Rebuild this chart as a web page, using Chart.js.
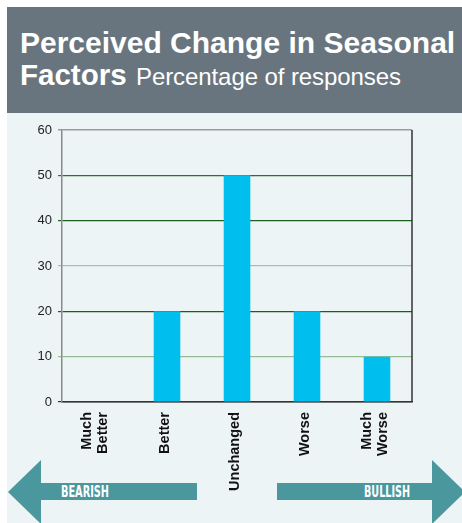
<!DOCTYPE html>
<html>
<head>
<meta charset="utf-8">
<script src="https://cdn.jsdelivr.net/npm/chart.js@4/dist/chart.umd.min.js"></script>
<style>
  html, body { margin: 0; padding: 0; background: #ffffff; }
  #wrap { position: relative; width: 462px; height: 523px; overflow: hidden; }
  #deco, #chart { position: absolute; left: 0; top: 0; }
</style>
</head>
<body>
<div id="wrap">
  <svg id="deco" width="462" height="523" xmlns="http://www.w3.org/2000/svg">
    <rect x="7" y="7" width="455" height="106" fill="#68757e"/>
    <rect x="7" y="113" width="455" height="410" fill="#ecf4f6"/>
    <text x="20" y="53" fill="#ffffff" font-family="'Liberation Sans', Arial, sans-serif" font-weight="bold" font-size="30">Perceived Change in Seasonal</text>
    <text x="20" y="85" fill="#ffffff" font-family="'Liberation Sans', Arial, sans-serif" font-size="24"><tspan font-weight="bold" font-size="29.5">Factors</tspan><tspan x="136" textLength="265" lengthAdjust="spacing">Percentage of responses</tspan></text>
    <polygon points="8,492 41,460 41,483 197,483 197,500 41,500 41,524" fill="#4a979d"/>
    <polygon points="465,492 432,460 432,483 277,483 277,500 432,500 432,524" fill="#4a979d"/>
    <text x="61" y="496.5" fill="#ffffff" font-family="'Liberation Sans Narrow', 'DejaVu Sans Condensed', 'Liberation Sans', sans-serif" font-weight="bold" font-size="15" textLength="48" lengthAdjust="spacingAndGlyphs">BEARISH</text>
    <text x="364" y="496.5" fill="#ffffff" font-family="'Liberation Sans Narrow', 'DejaVu Sans Condensed', 'Liberation Sans', sans-serif" font-weight="bold" font-size="15" textLength="46" lengthAdjust="spacingAndGlyphs">BULLISH</text>
  </svg>
  <canvas id="chart" width="462" height="523"></canvas>
</div>
<script>
// Survey answers: perceived change in seasonal factors, % of responses
const categories = [["Much", "Better"], ["Better"], ["Unchanged"], ["Worse"], ["Much", "Worse"]];
const responses = [0, 20, 50, 20, 10];
const yTicks = [0, 10, 20, 30, 40, 50, 60];

// Horizontal rule colours by tick value
const ruleColours = { 0: '#333333', 10: '#96bc96', 20: '#1d5d1d', 30: '#a3c4a3', 40: '#1f5f1f', 50: '#2f6f2f', 60: '#9a9d9f' };

// Right-hand frame line of the plot area
const frameRight = {
  id: 'frameRight',
  afterDatasetsDraw(chart) {
    const { ctx, chartArea } = chart;
    ctx.save();
    ctx.strokeStyle = '#333333';
    ctx.lineWidth = 1.5;
    ctx.beginPath();
    ctx.moveTo(chartArea.right, chartArea.top);
    ctx.lineTo(chartArea.right, chartArea.bottom);
    ctx.stroke();
    ctx.restore();
  }
};

// Vertical category labels, each block centred on its tick
const verticalLabels = {
  id: 'verticalLabels',
  afterDraw(chart) {
    const { ctx } = chart;
    const xs = chart.scales.x;
    const lineH = 16;
    ctx.save();
    ctx.fillStyle = '#111111';
    ctx.font = 'bold 14.5px "Liberation Sans", Arial, sans-serif';
    ctx.textAlign = 'right';
    ctx.textBaseline = 'middle';
    xs.ticks.forEach((t, i) => {
      const lines = categories[i];
      const x = xs.getPixelForTick(i) - 2;
      ctx.save();
      ctx.translate(x, xs.top + 10);
      ctx.rotate(-Math.PI / 2);
      lines.forEach((line, j) => {
        ctx.fillText(line, 0, (j - (lines.length - 1) / 2) * lineH);
      });
      ctx.restore();
    });
    ctx.restore();
  }
};

new Chart(document.getElementById('chart'), {
  type: 'bar',
  data: {
    labels: categories.map(c => c.join(' ')),
    datasets: [{
      data: responses,
      backgroundColor: '#00bfee',
      borderWidth: 0,
      barPercentage: 0.38,
      categoryPercentage: 1
    }]
  },
  options: {
    responsive: false,
    animation: false,
    devicePixelRatio: 1,
    layout: { padding: { left: 0, top: 130, right: 50, bottom: 0 } },
    plugins: { legend: { display: false }, tooltip: { enabled: false } },
    scales: {
      x: {
        grid: { display: false, drawTicks: false },
        border: { display: true, color: '#333333', width: 1.5 },
        ticks: { display: false },
        afterFit(scale) { scale.height = 121; }
      },
      y: {
        min: 0,
        max: 60,
        afterBuildTicks(scale) { scale.ticks = yTicks.map(v => ({ value: v })); },
        grid: {
          color: ctx => ruleColours[ctx.tick.value] || '#999999',
          lineWidth: ctx => (ctx.tick.value === 60 ? 1.5 : 1.2),
          tickLength: 4
        },
        border: { display: true, color: '#8a8a8a', width: 1.5 },
        ticks: {
          padding: 6,
          color: '#222222',
          font: { family: '"Liberation Sans", Arial, sans-serif', size: 13 }
        },
        afterFit(scale) { scale.width = 62; }
      }
    }
  },
  plugins: [frameRight, verticalLabels]
});
</script>
</body>
</html>
